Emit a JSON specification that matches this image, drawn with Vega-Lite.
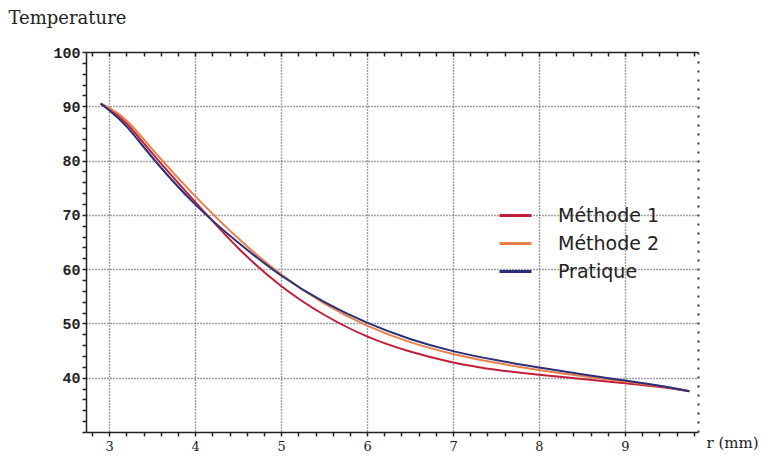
{
  "$schema": "https://vega.github.io/schema/vega-lite/v6.json",
  "autosize": "none",
  "width": 612,
  "height": 380,
  "padding": {"left": 86, "top": 52, "right": 65, "bottom": 29},
  "background": "white",
  "config": {"view": {"stroke": null}},
  "data": {"values": [
    {"r": 2.9, "t": 90.5, "s": "Méthode 1"},
    {"r": 3.0, "t": 89.6, "s": "Méthode 1"},
    {"r": 3.2, "t": 87.2, "s": "Méthode 1"},
    {"r": 3.5, "t": 81.2, "s": "Méthode 1"},
    {"r": 4.0, "t": 72.4, "s": "Méthode 1"},
    {"r": 4.5, "t": 63.6, "s": "Méthode 1"},
    {"r": 5.0, "t": 56.6, "s": "Méthode 1"},
    {"r": 5.5, "t": 51.4, "s": "Méthode 1"},
    {"r": 6.0, "t": 47.4, "s": "Méthode 1"},
    {"r": 6.5, "t": 44.7, "s": "Méthode 1"},
    {"r": 7.0, "t": 42.7, "s": "Méthode 1"},
    {"r": 7.5, "t": 41.4, "s": "Méthode 1"},
    {"r": 8.0, "t": 40.5, "s": "Méthode 1"},
    {"r": 8.5, "t": 39.8, "s": "Méthode 1"},
    {"r": 9.0, "t": 39.0, "s": "Méthode 1"},
    {"r": 9.5, "t": 38.2, "s": "Méthode 1"},
    {"r": 9.75, "t": 37.5, "s": "Méthode 1"},
    {"r": 2.9, "t": 90.5, "s": "Méthode 2"},
    {"r": 3.0, "t": 89.8, "s": "Méthode 2"},
    {"r": 3.2, "t": 87.8, "s": "Méthode 2"},
    {"r": 3.5, "t": 82.0, "s": "Méthode 2"},
    {"r": 4.0, "t": 73.3, "s": "Méthode 2"},
    {"r": 4.5, "t": 65.5, "s": "Méthode 2"},
    {"r": 5.0, "t": 58.8, "s": "Méthode 2"},
    {"r": 5.5, "t": 53.5, "s": "Méthode 2"},
    {"r": 6.0, "t": 49.4, "s": "Méthode 2"},
    {"r": 6.5, "t": 46.4, "s": "Méthode 2"},
    {"r": 7.0, "t": 44.3, "s": "Méthode 2"},
    {"r": 7.5, "t": 42.7, "s": "Méthode 2"},
    {"r": 8.0, "t": 41.4, "s": "Méthode 2"},
    {"r": 8.5, "t": 40.3, "s": "Méthode 2"},
    {"r": 9.0, "t": 39.3, "s": "Méthode 2"},
    {"r": 9.5, "t": 38.3, "s": "Méthode 2"},
    {"r": 9.75, "t": 37.5, "s": "Méthode 2"},
    {"r": 2.9, "t": 90.5, "s": "Pratique"},
    {"r": 3.0, "t": 89.3, "s": "Pratique"},
    {"r": 3.2, "t": 86.6, "s": "Pratique"},
    {"r": 3.5, "t": 80.4, "s": "Pratique"},
    {"r": 4.0, "t": 71.6, "s": "Pratique"},
    {"r": 4.5, "t": 64.8, "s": "Pratique"},
    {"r": 5.0, "t": 58.6, "s": "Pratique"},
    {"r": 5.5, "t": 53.8, "s": "Pratique"},
    {"r": 6.0, "t": 50.0, "s": "Pratique"},
    {"r": 6.5, "t": 47.0, "s": "Pratique"},
    {"r": 7.0, "t": 44.8, "s": "Pratique"},
    {"r": 7.5, "t": 43.2, "s": "Pratique"},
    {"r": 8.0, "t": 41.9, "s": "Pratique"},
    {"r": 8.5, "t": 40.6, "s": "Pratique"},
    {"r": 9.0, "t": 39.5, "s": "Pratique"},
    {"r": 9.5, "t": 38.3, "s": "Pratique"},
    {"r": 9.75, "t": 37.5, "s": "Pratique"}
  ]},
  "resolve": {"axis": {"x": "independent", "y": "independent"}},
  "layer": [
    {
      "mark": {"type": "line", "strokeOpacity": 0},
      "encoding": {
        "x": {"field": "r", "type": "quantitative",
          "scale": {"domain": [2.73, 9.85], "nice": false, "zero": false},
          "axis": {"orient": "top", "values": [2.8,3,3.2,3.4,3.6,3.8,4,4.2,4.4,4.6,4.8,5,5.2,5.4,5.6,5.8,6,6.2,6.4,6.6,6.8,7,7.2,7.4,7.6,7.8,8,8.2,8.4,8.6,8.8,9,9.2,9.4,9.6,9.8],
            "labels": false, "grid": false, "title": null, "domainColor": "#222", "domainWidth": 1.5, "tickColor": "#222", "tickSize": -4, "tickWidth": 1.5}},
        "y": {"field": "t", "type": "quantitative",
          "scale": {"domain": [30, 100], "nice": false, "zero": false},
          "axis": {"orient": "right", "labels": false, "ticks": false, "grid": false, "title": null, "domainColor": "#333", "domainDash": [2, 7], "domainWidth": 2}},
        "detail": {"field": "s"}
      }
    },
    {
      "mark": {"type": "line", "strokeWidth": 2, "interpolate": "basis"},
      "encoding": {
        "x": {"field": "r", "type": "quantitative",
          "axis": {"orient": "bottom",
            "values": [2.8,3,3.2,3.4,3.6,3.8,4,4.2,4.4,4.6,4.8,5,5.2,5.4,5.6,5.8,6,6.2,6.4,6.6,6.8,7,7.2,7.4,7.6,7.8,8,8.2,8.4,8.6,8.8,9,9.2,9.4,9.6,9.8],
            "labelExpr": "abs(datum.value - round(datum.value)) < 0.01 ? format(datum.value, 'd') : ''",
            "labelFont": "DejaVu Serif", "labelFontSize": 13, "labelColor": "#222", "labelPadding": 4,
            "domainColor": "#222", "domainWidth": 1.5, "tickColor": "#222", "tickSize": 4, "tickWidth": 1.5,
            "grid": true, "gridColor": "#444", "gridDash": [1, 2], "gridWidth": 1.4,
            "gridOpacity": {"condition": {"test": "abs(datum.value - round(datum.value)) < 0.01", "value": 1}, "value": 0},
            "title": "r (mm)", "titleFont": "DejaVu Serif", "titleFontSize": 15, "titleFontWeight": "normal", "titleColor": "#222",
            "titleAngle": 0, "titleAlign": "left", "titleBaseline": "middle", "titleX": 620, "titleY": 10}},
        "y": {"field": "t", "type": "quantitative",
          "axis": {"orient": "left",
            "values": [30,32,34,36,38,40,42,44,46,48,50,52,54,56,58,60,62,64,66,68,70,72,74,76,78,80,82,84,86,88,90,92,94,96,98,100],
            "labelExpr": "datum.value % 10 == 0 && datum.value > 30 ? format(datum.value, 'd') : ''",
            "labelFont": "Liberation Mono", "labelFontSize": 15, "labelFontWeight": "bold", "labelColor": "#222", "labelPadding": 2,
            "domainColor": "#222", "domainWidth": 1.5, "tickColor": "#222", "tickSize": 4, "tickWidth": 1.5,
            "grid": true, "gridColor": "#444", "gridDash": [1, 2], "gridWidth": 1.4,
            "gridOpacity": {"condition": {"test": "datum.value % 10 == 0 && datum.value > 30 && datum.value < 100", "value": 1}, "value": 0},
            "title": "Temperature", "titleFont": "DejaVu Serif", "titleFontSize": 18, "titleFontWeight": "normal", "titleColor": "#222",
            "titleAngle": 0, "titleAlign": "left", "titleBaseline": "middle", "titleX": -78, "titleY": -34}},
        "color": {"field": "s", "type": "nominal",
          "scale": {"domain": ["Méthode 1", "Méthode 2", "Pratique"], "range": ["#c21f3a", "#e8804a", "#2b2f7a"]},
          "legend": {"orient": "none", "legendX": 412, "legendY": 146, "title": null,
            "symbolType": "stroke", "symbolSize": 1024, "symbolStrokeWidth": 3, "labelOffset": 25,
            "labelFont": "DejaVu Sans", "labelFontSize": 19, "labelColor": "#222", "rowPadding": -7, "padding": 0, "labelLimit": 200}}
      }
    }
  ]
}
